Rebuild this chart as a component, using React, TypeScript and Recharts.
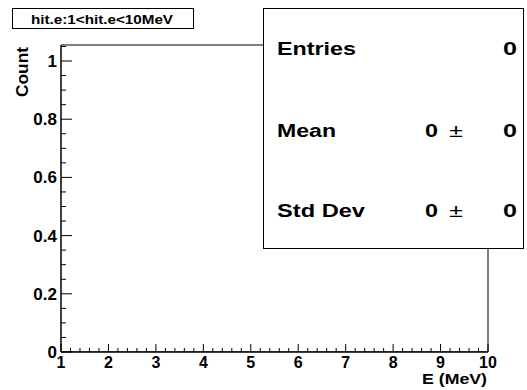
import React from 'react';
import { ComposedChart, Line, XAxis, YAxis, ReferenceArea } from 'recharts';

// Histogram bins (lower edges) and counts: the histogram is empty
const binEdges = [1, 2, 3, 4, 5, 6, 7, 8, 9, 10];
const binCounts = [0, 0, 0, 0, 0, 0, 0, 0, 0, 0];

const xMajorTicks = [1, 2, 3, 4, 5, 6, 7, 8, 9, 10];
const yMajorTicks = [0, 0.2, 0.4, 0.6, 0.8, 1];
const yTickLabels = ['0', '0.2', '0.4', '0.6', '0.8', '1'];
const xTickLabels = ['1', '2', '3', '4', '5', '6', '7', '8', '9', '10'];

const titleText = 'hit.e:1<hit.e<10MeV';
const xAxisTitle = 'E (MeV)';
const yAxisTitle = 'Count';

const statNames = ['Entries', 'Mean', 'Std Dev'];
const statValues = ['0', '0', '0'];
const statErrors = [null, '0', '0'];

const data = binEdges.map((x, i) => ({ x, count: binCounts[i] }));

const xMinorTicks: number[] = [];
for (let i = 0; i <= 45; i++) xMinorTicks.push(+(1 + i * 0.2).toFixed(2));
const yMinorTicks: number[] = [];
for (let i = 0; i <= 21; i++) yMinorTicks.push(+(i * 0.05).toFixed(2));

const FONT = '"Liberation Sans", Arial, Helvetica, sans-serif';

const isMajor = (v: number, arr: number[]) => arr.some((m) => Math.abs(m - v) < 1e-6);

const XTick = (props: any) => {
  const { x, y, payload } = props;
  const v = payload.value;
  const major = isMajor(v, xMajorTicks);
  const idx = xMajorTicks.findIndex((m) => Math.abs(m - v) < 1e-6);
  return (
    <g>
      <line x1={x} y1={y} x2={x} y2={y - (major ? 8 : 4)} stroke="#000" strokeWidth={1} />
      {major && (
        <text x={x} y={y + 16} textAnchor="middle" fontFamily={FONT} fontWeight="bold" fontSize={16} fill="#000">
          {xTickLabels[idx]}
        </text>
      )}
    </g>
  );
};

const YTick = (props: any) => {
  const { x, y, payload } = props;
  const v = payload.value;
  const major = isMajor(v, yMajorTicks);
  const idx = yMajorTicks.findIndex((m) => Math.abs(m - v) < 1e-6);
  return (
    <g>
      <line x1={x} y1={y} x2={x + (major ? 11 : 5)} y2={y} stroke="#000" strokeWidth={1} />
      {major && (
        <text x={x - 4} y={y + 6} textAnchor="end" fontFamily={FONT} fontWeight="bold" fontSize={17} fill="#000">
          {yTickLabels[idx]}
        </text>
      )}
    </g>
  );
};

const nameLengths = [79, 59, 88];

export default function App() {
  const statY = [55, 137, 217];
  const S = { fontFamily: FONT, fontWeight: 'bold' as const, fontSize: 18, fill: '#000' };
  return (
    <div style={{ position: 'absolute', left: 0, top: 0, width: 527, height: 390, background: '#fff' }}>
      <ComposedChart width={527} height={390} data={data} margin={{ top: 45, right: 39, bottom: 8, left: 1 }}>
        <XAxis
          type="number"
          dataKey="x"
          domain={[1, 10]}
          ticks={xMinorTicks}
          interval={0}
          tickSize={0}
          tickMargin={0}
          height={30}
          axisLine={{ stroke: '#000' }}
          tickLine={false}
          tick={<XTick />}
          allowDataOverflow
        />
        <YAxis
          type="number"
          domain={[0, 1.055]}
          ticks={yMinorTicks}
          interval={0}
          tickSize={0}
          tickMargin={0}
          width={60}
          axisLine={{ stroke: '#000' }}
          tickLine={false}
          tick={<YTick />}
          allowDataOverflow
        />
        <ReferenceArea x1={1} x2={10} y1={0} y2={1.055} fill="none" stroke="#000" strokeWidth={1} ifOverflow="visible" />
        <Line type="stepAfter" dataKey="count" stroke="#000" strokeWidth={1} dot={false} isAnimationActive={false} />
      </ComposedChart>
      <svg width={527} height={390} style={{ position: 'absolute', left: 0, top: 0, pointerEvents: 'none' }}>
        <rect x={12.5} y={8.5} width={181} height={20} fill="#fff" stroke="#000" strokeWidth={1} />
        <text x={102} y={24} textAnchor="middle" fontFamily={FONT} fontWeight="bold" fontSize={12} textLength={142} lengthAdjust="spacingAndGlyphs" fill="#000">
          {titleText}
        </text>
        <text x={28} y={72} transform="rotate(-90 28 72)" textAnchor="middle" fontFamily={FONT} fontWeight="bold" fontSize={17} textLength={50} lengthAdjust="spacingAndGlyphs" fill="#000">
          {yAxisTitle}
        </text>
        <text x={487} y={384} textAnchor="end" fontFamily={FONT} fontWeight="bold" fontSize={15} textLength={65} lengthAdjust="spacingAndGlyphs" fill="#000">
          {xAxisTitle}
        </text>
        <rect x={263.5} y={8.5} width={260} height={240} fill="#fff" stroke="#000" strokeWidth={1} />
        {statNames.map((name, i) => (
          <g key={name}>
            <text x={277} y={statY[i]} {...S} textLength={nameLengths[i]} lengthAdjust="spacingAndGlyphs">
              {name}
            </text>
            {statErrors[i] === null ? (
              <text x={503} y={statY[i]} {...S} textLength={14} lengthAdjust="spacingAndGlyphs">
                {statValues[i]}
              </text>
            ) : (
              <>
                <text x={425} y={statY[i]} {...S} textLength={13} lengthAdjust="spacingAndGlyphs">
                  {statValues[i]}
                </text>
                <text x={449} y={statY[i]} fontFamily={FONT} fontSize={19} fill="#000" textLength={14} lengthAdjust="spacingAndGlyphs">
                  ±
                </text>
                <text x={503} y={statY[i]} {...S} textLength={14} lengthAdjust="spacingAndGlyphs">
                  {statErrors[i]}
                </text>
              </>
            )}
          </g>
        ))}
      </svg>
    </div>
  );
}
